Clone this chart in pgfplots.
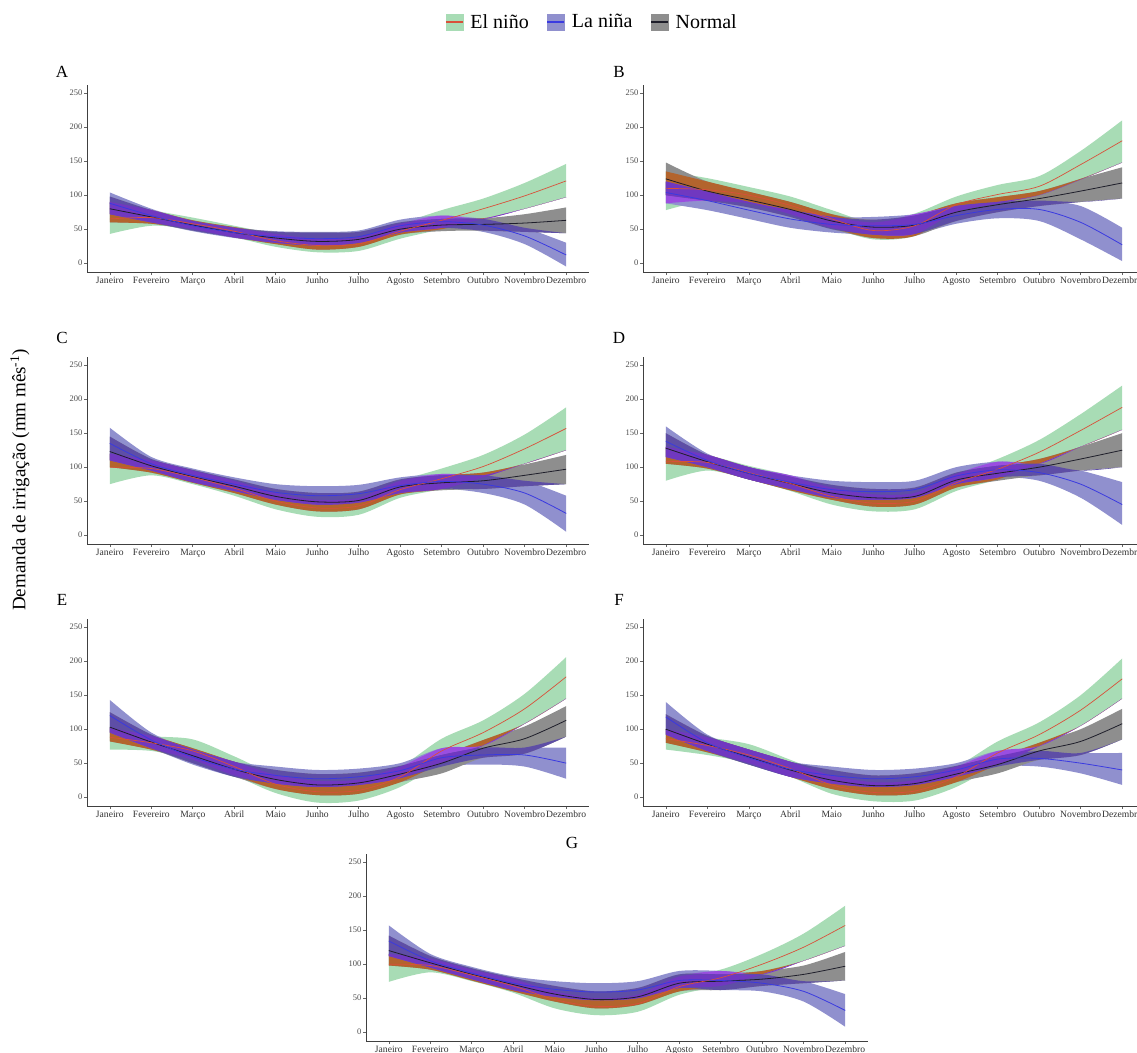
\documentclass[border=0pt]{standalone}
\usepackage{fontspec}
\setmainfont{Liberation Serif}
\usepackage{pgfplots}
\usepackage{pgfplotstable}
\pgfplotsset{compat=1.18}
\usepgfplotslibrary{fillbetween}

\definecolor{cE}{HTML}{A8DCB5}
\definecolor{cL}{HTML}{9090CE}
\definecolor{cN}{HTML}{8E8E8E}
\definecolor{cEN}{HTML}{B3642D}
\definecolor{cEL}{HTML}{9A4EE0}
\definecolor{cLN}{HTML}{5E4EA6}
\definecolor{cELN}{HTML}{7038C0}
\definecolor{lE}{HTML}{D9503A}
\definecolor{lL}{HTML}{3A3AE0}
\definecolor{lN}{HTML}{1E1E2A}

% columns: month, El nino (lo, mid, hi), La nina (lo, mid, hi), Normal (lo, mid, hi)
\pgfplotstableread{
x Elo Em Ehi Llo Lm Lhi Nlo Nm Nhi
1  43 65 90    72 88 104   60 80 98
2  55 67 78    60 70 80    58 68 78
3  50 58 67    47 55 62    48 56 63
4  38 47 55    37 45 52    38 45 53
5  24 33 43    30 39 47    28 37 46
6  16 26 36    26 36 46    20 32 45
7  18 28 38    30 39 48    24 35 46
8  36 47 58    45 55 64    42 50 60
9  50 63 78    52 61 70    47 56 65
10 65 80 95    46 56 65    48 57 66
11 80 99 118   28 40 52    46 59 72
12 97 121 146  -5 12 30    44 63 82
}\tA
\pgfplotstableread{
x Elo Em Ehi Llo Lm Lhi Nlo Nm Nhi
1  78 110 135   88 104 120   100 124 148
2  92 108 125   78 92 105    92 106 120
3  88 100 112   65 78 90     82 93 105
4  72 85 98     52 65 78     68 79 90
5  52 65 78     45 57 68     50 62 72
6  35 48 60     42 55 68     37 53 64
7  40 55 73     43 57 72     40 56 70
8  75 86 98     58 70 84     62 75 88
9  88 101 115   66 79 90     75 86 97
10 100 113 128  62 79 92     84 95 106
11 123 145 165  35 60 84     90 106 124
12 148 180 210  3 27 52      95 118 141
}\tB
\pgfplotstableread{
x Elo Em Ehi Llo Lm Lhi Nlo Nm Nhi
1  75 100 120   110 135 158   100 123 145
2  88 98 110    95 105 115    92 102 112
3  75 85 95     78 88 98      77 86 96
4  58 69 80     65 75 85      62 72 82
5  38 50 62     52 63 75      45 57 68
6  27 40 52     45 58 72      35 49 62
7  30 43 55     48 61 74      38 51 64
8  55 67 80     62 73 85      60 71 82
9  68 83 98     68 79 90      66 77 88
10 85 101 118   62 75 88      68 80 92
11 105 127 148  45 62 80      72 88 104
12 125 157 188  5 32 58       75 97 118
}\tC
\pgfplotstableread{
x Elo Em Ehi Llo Lm Lhi Nlo Nm Nhi
1  80 108 130   115 138 160   105 128 150
2  95 107 118   100 110 120   98 108 118
3  82 92 102    82 91 100     82 91 100
4  65 76 88     68 78 88      66 76 86
5  45 57 70     55 67 80      52 62 74
6  35 47 60     52 64 78      42 55 68
7  38 50 62     55 67 80      45 57 70
8  65 77 90     75 87 100     70 81 92
9  82 97 112    85 96 108     80 91 102
10 105 122 140  80 92 105     88 100 112
11 130 154 178  55 75 95      95 112 130
12 155 188 220  15 45 78      100 125 150
}\tD
\pgfplotstableread{
x Elo Em Ehi Llo Lm Lhi Nlo Nm Nhi
1  70 88 102    95 120 143    82 103 125
2  68 80 90     72 84 95      70 81 92
3  55 68 85     48 59 70      50 61 72
4  32 45 60     30 41 52      30 41 52
5  6 19 33      20 32 45      12 26 40
6  -8 8 24      15 27 40      3 18 34
7  -5 10 26     18 30 42      5 21 36
8  15 30 45     28 39 50      22 34 46
9  50 68 86     45 58 72      35 50 62
10 76 95 113    48 62 73      58 72 84
11 108 130 152  45 62 73      64 86 104
12 145 177 206  27 50 73      89 113 134
}\tE
\pgfplotstableread{
x Elo Em Ehi Llo Lm Lhi Nlo Nm Nhi
1  70 86 100    92 118 140    80 100 122
2  62 76 88     68 80 92      66 78 90
3  50 62 78     48 58 70      48 59 70
4  30 42 55     30 41 52      30 40 52
5  5 18 32      20 32 45      12 25 40
6  -6 7 22      15 27 40      3 17 32
7  -5 9 25      18 30 42      5 20 35
8  15 30 45     30 40 50      22 34 46
9  48 65 82     45 56 68      35 48 60
10 75 92 110    45 57 68      55 68 80
11 105 128 150  35 50 65      62 82 100
12 145 174 204  18 40 65      85 108 130
}\tF
\pgfplotstableread{
x Elo Em Ehi Llo Lm Lhi Nlo Nm Nhi
1  74 100 115   112 134 157   98 120 142
2  88 98 108    95 105 115    92 102 112
3  75 84 92     78 87 96      76 85 94
4  58 68 78     62 72 82      60 70 80
5  35 48 60     52 63 75      45 56 68
6  25 38 50     47 59 72      35 48 60
7  30 42 55     50 62 75      40 52 65
8  55 67 82     65 76 90      60 72 85
9  68 80 92     62 76 90      62 75 85
10 85 100 115   60 72 85      68 78 90
11 105 125 145  45 60 75      72 85 98
12 127 157 186  8 32 56       76 97 118
}\tG

% one band between two expressions of a table
\newcommand{\band}[5]{%
  \addplot[draw=none, smooth, forget plot, name path=lo#5] table[x=x, y expr={#2}] {#1};
  \addplot[draw=none, smooth, forget plot, name path=hi#5] table[x=x, y expr={#3}] {#1};
  \addplot[fill=#4, draw=none, forget plot] fill between[of=lo#5 and hi#5];
}
\newcommand{\R}[1]{\thisrow{#1}}
\newcommand{\drawpanel}[1]{%
  \band{#1}{\R{Elo}}{\R{Ehi}}{cE}{a}
  \band{#1}{\R{Llo}}{\R{Lhi}}{cL}{b}
  \band{#1}{\R{Nlo}}{\R{Nhi}}{cN}{c}
  \band{#1}{max(\R{Elo},\R{Nlo})}{max(min(\R{Ehi},\R{Nhi}),max(\R{Elo},\R{Nlo}))}{cEN}{d}
  \band{#1}{max(\R{Elo},\R{Llo})}{max(min(\R{Ehi},\R{Lhi}),max(\R{Elo},\R{Llo}))}{cEL}{e}
  \band{#1}{max(\R{Llo},\R{Nlo})}{max(min(\R{Lhi},\R{Nhi}),max(\R{Llo},\R{Nlo}))}{cLN}{f}
  \band{#1}{max(\R{Elo},\R{Llo},\R{Nlo})}{max(min(\R{Ehi},\R{Lhi},\R{Nhi}),max(\R{Elo},\R{Llo},\R{Nlo}))}{cELN}{g}
  \addplot[smooth, draw=lN, line width=0.8pt, forget plot] table[x=x, y=Nm] {#1};
  \addplot[smooth, draw=lE, line width=0.7pt, forget plot] table[x=x, y=Em] {#1};
  \addplot[smooth, draw=lL, line width=0.8pt, forget plot] table[x=x, y=Lm] {#1};
}

\pgfplotsset{
  panel/.style={
    scale only axis, width=502pt, height=187pt,
    anchor=south west,
    xmin=0.45, xmax=12.55, ymin=-13, ymax=262,
    axis lines=left,
    axis line style={-, draw=black!75, line width=0.9pt},
    xtick={1,...,12},
    xticklabels={Janeiro,Fevereiro,Março,Abril,Maio,Junho,Julho,Agosto,Setembro,Outubro,Novembro,Dezembro},
    ytick={0,50,100,150,200,250},
    tick align=outside, major tick length=3pt,
    tick style={draw=black!60, line width=0.6pt},
    x tick label style={font=\fontsize{9.6}{10}\selectfont, text=black!80,
      inner sep=1.5pt, text height=7pt, text depth=2pt},
    y tick label style={font=\fontsize{8.5}{9}\selectfont, text=black!70, inner sep=1.5pt},
    /pgf/number format/assume math mode=true,
  },
}

\begin{document}
\begin{tikzpicture}
\begin{axis}[panel, at={(87pt,-272pt)},
  legend style={at={(1.006,1.337)}, anchor=center, draw=none, fill=none,
    font=\fontsize{20}{23}\selectfont, legend columns=3,
    /tikz/every odd column/.append style={column sep=5pt},
    /tikz/every even column/.append style={column sep=16pt}},
  legend cell align=left]
  \addlegendimage{legend image code/.code={\fill[cE] (0pt,-8pt) rectangle (17pt,8pt); \draw[lE, line width=1.2pt] (0pt,0pt) -- (17pt,0pt);}}
  \addlegendimage{legend image code/.code={\fill[cL] (0pt,-8pt) rectangle (17pt,8pt); \draw[lL, line width=1.2pt] (0pt,0pt) -- (17pt,0pt);}}
  \addlegendimage{legend image code/.code={\fill[cN] (0pt,-8pt) rectangle (17pt,8pt); \draw[lN, line width=1.2pt] (0pt,0pt) -- (17pt,0pt);}}
  \legend{El niño, La niña, Normal}
  \drawpanel{\tA}
\end{axis}
\begin{axis}[panel, at={(643pt,-272pt)}]
  \drawpanel{\tB}
\end{axis}
\begin{axis}[panel, at={(87pt,-544pt)}]
  \drawpanel{\tC}
\end{axis}
\begin{axis}[panel, at={(643pt,-544pt)}]
  \drawpanel{\tD}
\end{axis}
\begin{axis}[panel, at={(87pt,-806pt)}]
  \drawpanel{\tE}
\end{axis}
\begin{axis}[panel, at={(643pt,-806pt)}]
  \drawpanel{\tF}
\end{axis}
\begin{axis}[panel, at={(366pt,-1041pt)}]
  \drawpanel{\tG}
\end{axis}

\begin{scope}[every node/.style={font=\fontsize{17}{20}\selectfont}]
  \node at (62pt,-72pt) {A};
  \node at (619pt,-72pt) {B};
  \node at (62pt,-338pt) {C};
  \node at (619pt,-338pt) {D};
  \node at (62pt,-600pt) {E};
  \node at (619pt,-600pt) {F};
  \node at (572pt,-843pt) {G};
\end{scope}
\node[rotate=90, font=\fontsize{19}{22}\selectfont] at (20pt,-480pt)
  {Demanda de irrigação (mm mês\textsuperscript{-1})};

\pgfresetboundingbox
\path[use as bounding box] (0pt,0pt) rectangle (1137pt,-1052pt);
\end{tikzpicture}
\end{document}
